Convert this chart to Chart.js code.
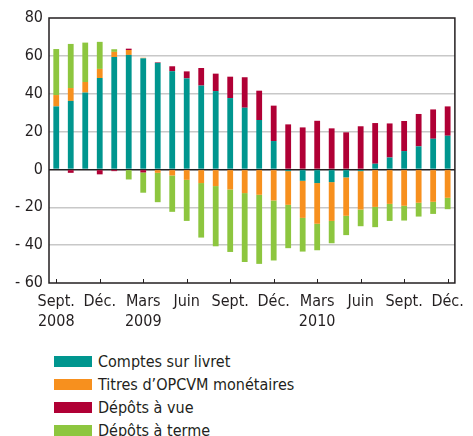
<!DOCTYPE html>
<html>
<head>
<meta charset="utf-8">
<script src="https://cdn.jsdelivr.net/npm/chart.js@4"></script>
<style>
  body { margin: 0; background: #fff; font-family: 'Liberation Sans Narrow', 'DejaVu Sans Condensed', sans-serif; }
  #wrap { position: relative; width: 473px; height: 340px; }
  #legend { position: absolute; left: 54px; top: 350px; font-size: 16px; color: #231f20; }
  .item { height: 23px; display: flex; align-items: center; }
  .box { width: 38px; height: 11px; margin-right: 6px; }
</style>
</head>
<body>
<div id="wrap"><canvas id="chart"></canvas></div>
<div id="legend"></div>
<script>
// monthly flows, Sept. 2008 -> Dec. 2010
const months = ['2008-09','2008-10','2008-11','2008-12','2009-01','2009-02','2009-03','2009-04','2009-05','2009-06',
  '2009-07','2009-08','2009-09','2009-10','2009-11','2009-12','2010-01','2010-02','2010-03','2010-04',
  '2010-05','2010-06','2010-07','2010-08','2010-09','2010-10','2010-11','2010-12'];
const tickLabels = [['Sept.','2008'],'','',['Déc.'],'','',['Mars','2009'],'','',['Juin'],'','',['Sept.'],'','',['Déc.'],'','',
  ['Mars','2010'],'','',['Juin'],'','',['Sept.'],'','',['Déc.']];

const livret = [33.3, 36.2, 40.6, 48.3, 59.4, 60.5, 58.7, 56.3, 51.9, 48.1, 44.3, 41.4, 37.7, 32.6,
  26.1, 15.0, -0.9, -6.0, -7.2, -6.7, -4.2, -0.9, 3.0, 6.3, 9.7, 12.2, 16.2, 17.8];
const opcvm = [6.0, 6.8, 5.6, 4.8, 2.7, 2.6, 0.3, -1.8, -3.2, -5.5, -7.2, -8.8, -10.6, -12.5,
  -13.4, -16.4, -17.8, -19.6, -21.5, -20.5, -20.3, -20.3, -19.8, -18.2, -19.2, -17.6, -17.1, -15.0];
const vue = [0, -1.8, 0, -2.6, -0.9, 0.7, -1.6, 0.3, 2.6, 3.7, 9.3, 9.2, 11.3, 16.1,
  15.5, 18.7, 23.8, 22.2, 25.7, 21.7, 19.6, 22.8, 21.5, 18.0, 15.9, 17.1, 15.5, 15.5];
const terme = [24.3, 23.3, 20.8, 14.3, 1.4, -5.3, -10.7, -15.5, -19.2, -21.7, -28.8, -31.8, -33.0, -36.4,
  -36.5, -31.7, -22.9, -17.8, -14.0, -11.8, -10.2, -8.8, -10.7, -9.0, -7.8, -7.3, -6.4, -6.0];

const FONT = "'Liberation Sans Narrow', 'DejaVu Sans Condensed', sans-serif";

const frame = {
  id: 'frame',
  afterDraw(chart) {
    const { ctx, chartArea: a, scales: { x } } = chart;
    ctx.save();
    ctx.strokeStyle = '#231f20';
    ctx.lineWidth = 1.5;
    ctx.strokeRect(a.left, a.top, a.right - a.left, a.bottom - a.top);
    ctx.lineWidth = 1;
    ctx.beginPath();
    tickLabels.forEach((t, i) => {
      if (!t) return;
      const px = Math.round(x.getPixelForValue(i)) + 0.5;
      ctx.moveTo(px, a.bottom);
      ctx.lineTo(px, a.bottom - 4);
    });
    ctx.stroke();
    ctx.restore();
  }
};

const chart = new Chart(document.getElementById('chart'), {
  type: 'bar',
  data: {
    labels: months,
    datasets: [
      { label: 'Comptes sur livret', data: livret, backgroundColor: '#00968f' },
      { label: 'Titres d’OPCVM monétaires', data: opcvm, backgroundColor: '#f7901e' },
      { label: 'Dépôts à vue', data: vue, backgroundColor: '#b00035' },
      { label: 'Dépôts à terme', data: terme, backgroundColor: '#8dc63f' }
    ]
  },
  options: {
    responsive: true,
    maintainAspectRatio: false,
    animation: false,
    layout: { padding: { top: 18, right: 8, left: 0, bottom: 0 } },
    datasets: { bar: { categoryPercentage: 1, barPercentage: 0.4 } },
    plugins: { legend: { display: false }, tooltip: { enabled: false } },
    scales: {
      x: {
        stacked: true,
        grid: { display: false, drawTicks: false },
        border: { display: false },
        ticks: {
          autoSkip: false, maxRotation: 0, padding: 9, color: '#231f20',
          font: { family: FONT, size: 16, lineHeight: 1.25 },
          callback: (v, i) => tickLabels[i] || ''
        },
        afterFit: s => { s.height = 57; }
      },
      y: {
        stacked: true,
        min: -60, max: 80,
        grid: {
          drawTicks: false,
          color: c => c.tick.value === 0 ? '#231f20' : (c.tick.value === -60 || c.tick.value === 80 ? 'rgba(0,0,0,0)' : '#c8c8c8'),
          lineWidth: 1.5
        },
        border: { display: false },
        ticks: {
          stepSize: 20, padding: 6, color: '#231f20',
          font: { family: FONT, size: 16 },
          callback: v => v < 0 ? '- ' + Math.abs(v) : String(v)
        },
        afterFit: s => { s.width = 49; }
      }
    }
  },
  plugins: [frame]
});

const legend = document.getElementById('legend');
chart.data.datasets.forEach(ds => {
  const row = document.createElement('div');
  row.className = 'item';
  const box = document.createElement('span');
  box.className = 'box';
  box.style.background = ds.backgroundColor;
  row.appendChild(box);
  row.appendChild(document.createTextNode(ds.label));
  legend.appendChild(row);
});
</script>
</body>
</html>
